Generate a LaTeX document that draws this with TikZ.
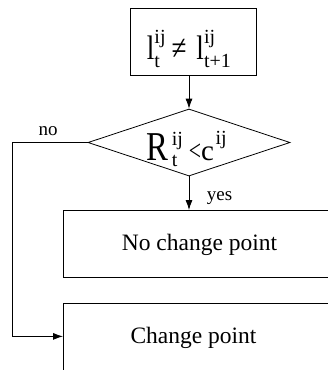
\documentclass[tikz,border=0pt]{standalone}
\usepackage{graphicx}
\usepackage{fontspec}
\setmainfont{Liberation Serif}
\usetikzlibrary{shapes.geometric,arrows.meta}
\newsavebox\mysupbox
\newsavebox\mysubbox
% sup, sub, sup raise, sub lower, script size
\newcommand\myssc[5]{%
  \sbox\mysupbox{\fontsize{#5}{#5}\selectfont #1}%
  \sbox\mysubbox{\fontsize{#5}{#5}\selectfont #2}%
  \rlap{\raisebox{#3}{\usebox\mysupbox}}\raisebox{-#4}{\usebox\mysubbox}%
  \ifdim\wd\mysupbox>\wd\mysubbox\hspace{\dimexpr\wd\mysupbox-\wd\mysubbox\relax}\fi}
\newcommand\mynarrow[1]{\scalebox{0.8}[1]{#1}}
\begin{document}
\begin{tikzpicture}[x=1pt,y=-1pt,
  line width=0.8pt,
  arr/.style={-{Latex[length=10pt,width=7pt]}},
  boxnode/.style={draw, rectangle, inner sep=0pt},
  txt/.style={inner sep=0pt, anchor=base west},
  lbl/.style={font=\fontsize{19}{22}\selectfont, inner sep=0pt, anchor=base},
  boxtxt/.style={font=\fontsize{23.5}{27}\selectfont, inner sep=0pt}]
\useasboundingbox (0,0) rectangle (328,370);
\clip (0,0) rectangle (328,370);
% condition box
\node[boxnode, minimum width=126pt, minimum height=67pt] (cond) at (193.3,41.5) {};
\node[txt, font=\fontsize{34}{38}\selectfont] (condtxt) at (146.5,59.5)
  {\mynarrow{l}\myssc{ij}{t}{16.5pt}{8pt}{20}\hspace{6pt}\mynarrow{≠}\hspace{10pt}\mynarrow{l}\myssc{ij}{t+1}{16.5pt}{8pt}{20}};
% decision diamond
\node[draw, diamond, minimum width=202pt, minimum height=67pt, inner sep=0pt] (dec) at (189,142.5) {};
\node[txt, font=\fontsize{41}{44}\selectfont] (dectxt) at (146.5,160.5)
  {\mynarrow{R}\hspace{3pt}\myssc{ij}{t}{15pt}{6pt}{20}\hspace{6pt}{\fontsize{29}{32}\selectfont\scalebox{0.75}[1]{<}c}\hspace{1.5pt}\myssc{ij}{}{16pt}{0pt}{20}};
% result boxes
\node[boxnode, minimum width=290pt, minimum height=67pt, anchor=north west] (nochg) at (63,210) {};
\node[boxtxt] (nochgtxt) at (199.5,245) {No change point};
\node[boxnode, minimum width=290pt, minimum height=67pt, anchor=north west] (chg) at (63,302.5) {};
\node[boxtxt] (chgtxt) at (193.5,338) {Change point};
% connectors
\draw[arr] (cond.south -| dec.north) -- (dec.north);
\draw[arr] (dec.south) -- (dec.south |- nochg.north);
\coordinate (noturn) at (12.7,142.5);
\draw[arr] (dec.west) -- (noturn) |- (chg.west);
% labels
\node[lbl] (nolbl) at (48,135) {no};
\node[lbl] (yeslbl) at (219.5,200.5) {yes};
\end{tikzpicture}
\end{document}
